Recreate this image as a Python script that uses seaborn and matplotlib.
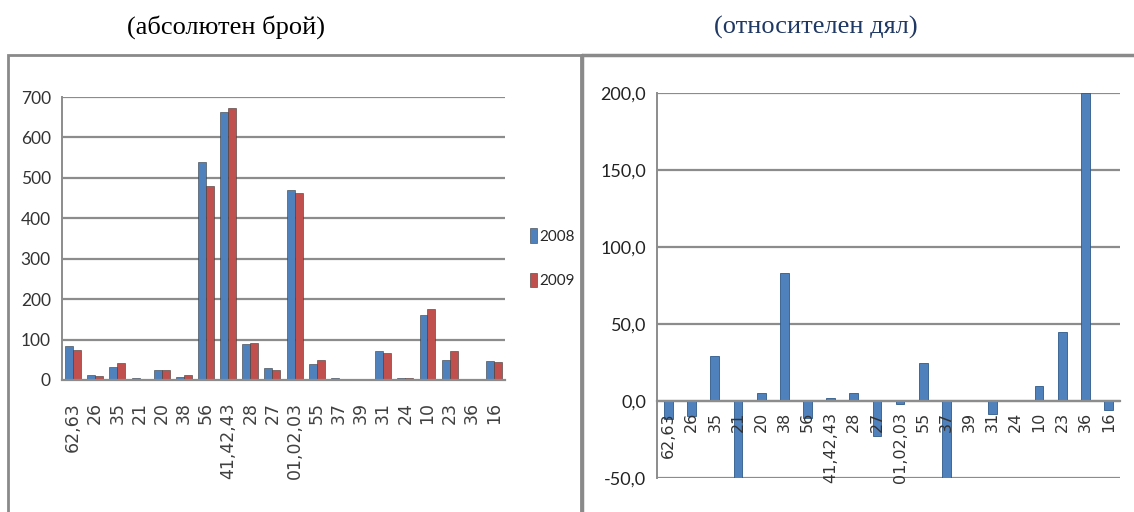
import matplotlib
matplotlib.use("Agg")
import matplotlib.pyplot as plt
from matplotlib import font_manager
from matplotlib.patches import Rectangle
from matplotlib.lines import Line2D
import seaborn as sns
import pandas as pd
import numpy as np

# ---- data ----
categories = ["62,63", "26", "35", "21", "20", "38", "56", "41,42,43", "28", "27",
              "01,02,03", "55", "37", "39", "31", "24", "10", "23", "36", "16"]
values_2008 = [85, 12, 33, 4, 24, 7, 540, 662, 88, 30, 470, 40, 4, 3, 72, 6, 160, 50, 1, 48]
values_2009 = [75, 11, 42, 2, 25, 13, 480, 673, 92, 24, 462, 49, 2, 3, 66, 6, 176, 72, 3, 45]
relative_change = [-12, -10, 29, -50, 5, 83, -11, 2, 5, -23, -1.7, 25, -50, 0.5, -8.5, 0.5, 10, 45, 200, -6]
years = ["2008", "2009"]
left_yticks = [0, 100, 200, 300, 400, 500, 600, 700]
right_yticks = [-50, 0, 50, 100, 150, 200]
title_left = "(абсолютен брой)"
title_right = "(относителен дял)"

BLUE = "#4F81BD"
RED = "#C0504D"
GRID = "#8C8C8C"

sns.set_style("white")
names = {f.name for f in font_manager.fontManager.ttflist}
NARROW = "Liberation Sans Narrow" if "Liberation Sans Narrow" in names else (
    "Lato" if "Lato" in names else "DejaVu Sans")
plt.rcParams["font.family"] = ["DejaVu Sans"]

W, H = 1134, 512
fig = plt.figure(figsize=(W / 100, H / 100), dpi=100)


def fx(px):
    return px / W


def fy(py):
    return 1 - py / H


# frames
fig.add_artist(Rectangle((fx(8), fy(515)), fx(573), fy(55) - fy(515), transform=fig.transFigure,
                         fill=False, edgecolor="#8A8A8A", linewidth=2))
fig.add_artist(Line2D([fx(582), fx(1134)], [fy(55), fy(55)], transform=fig.transFigure,
                      color="#8A8A8A", linewidth=2.5))
fig.add_artist(Line2D([fx(582), fx(582)], [fy(55), fy(515)], transform=fig.transFigure,
                      color="#8A8A8A", linewidth=2.5))

# titles
fig.text(fx(226), fy(27), title_left, ha="center", va="center", fontsize=19,
         family=["Liberation Serif", "DejaVu Serif"], color="black")
fig.text(fx(816), fy(27), title_right, ha="center", va="center", fontsize=19,
         family=["Liberation Serif", "DejaVu Serif"], color="#1F3864")

# ---------- left chart ----------
axL = fig.add_axes([fx(62), fy(380), fx(505 - 62), fy(97) - fy(380)])
df = pd.DataFrame({
    "cat": categories * 2,
    "val": values_2008 + values_2009,
    "year": [years[0]] * len(categories) + [years[1]] * len(categories),
})
sns.barplot(data=df, x="cat", y="val", hue="year", order=categories, hue_order=years,
            palette=[BLUE, RED], width=0.72, ax=axL, saturation=1,
            edgecolor="#3A3A3A", linewidth=0.4)
axL.set_axisbelow(False)
axL.set_xlim(-0.5, len(categories) - 0.5)
axL.set_ylim(0, 700)
axL.set_yticks(left_yticks)
axL.set_yticklabels([str(v) for v in left_yticks], family=NARROW, fontsize=12.5, color="#333333")
axL.set_xlabel("")
axL.set_ylabel("")
for v in left_yticks[1:]:
    axL.axhline(v, color=GRID, linewidth=1.6, zorder=0)
axL.set_xticks(range(len(categories)))
axL.set_xticklabels(categories, rotation=90, fontsize=12.5, color="#404040", va="top")
axL.set_xticks(np.arange(-0.5, len(categories), 1), minor=True)
axL.tick_params(axis="x", which="major", length=0, pad=16)
axL.tick_params(axis="x", which="minor", length=7, color=GRID, width=1.2)
axL.tick_params(axis="y", length=5, color=GRID, width=1.2, pad=3)
for s in ["top", "right"]:
    axL.spines[s].set_visible(False)
axL.spines["left"].set_color(GRID)
axL.spines["left"].set_linewidth(1.4)
axL.spines["bottom"].set_color(GRID)
axL.spines["bottom"].set_linewidth(1.6)
axL.legend(loc="center left", bbox_to_anchor=((530 - 62) / (505 - 62), 0.43),
           frameon=False, handlelength=0.45, handleheight=1.1, handletextpad=0.15,
           labelspacing=1.9, prop={"family": NARROW, "size": 11}, borderaxespad=0,
           borderpad=0)

# ---------- right chart ----------
axR = fig.add_axes([fx(657), fy(478), fx(1120 - 657), fy(93) - fy(478)])
sns.barplot(x=categories, y=relative_change, order=categories, color=BLUE, saturation=1,
            width=0.38, ax=axR, edgecolor="#2F5A8A", linewidth=0.6)
axR.set_axisbelow(False)
axR.set_xlim(-0.5, len(categories) - 0.5)
axR.set_ylim(-50, 200)
axR.set_yticks(right_yticks)
axR.set_yticklabels([f"{v:.1f}".replace(".", ",") for v in right_yticks], family=NARROW,
                    fontsize=13, color="#222222")
for v in right_yticks:
    axR.axhline(v, color=GRID, linewidth=1.6, zorder=0)
axR.spines["bottom"].set_position(("data", 0))
axR.spines["bottom"].set_color(GRID)
axR.spines["bottom"].set_linewidth(1.6)
axR.spines["left"].set_color(GRID)
axR.spines["left"].set_linewidth(1.4)
for s in ["top", "right"]:
    axR.spines[s].set_visible(False)
axR.set_xticks(range(len(categories)))
axR.set_xticklabels(categories, rotation=90, fontsize=11.5, color="#333333", va="top")
axR.set_xticks(np.arange(-0.5, len(categories), 1), minor=True)
axR.tick_params(axis="x", which="major", length=0, pad=8)
axR.tick_params(axis="x", which="minor", length=6, color=GRID, width=1.2)
axR.tick_params(axis="y", length=5, color=GRID, width=1.2, pad=3)

fig.savefig("out.png", dpi=100)
